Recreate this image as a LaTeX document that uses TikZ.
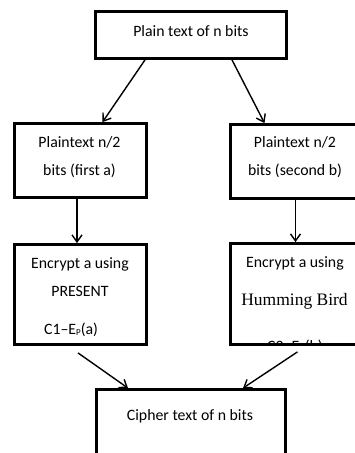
\documentclass[tikz,border=0pt]{standalone}
\usepackage{fontspec}
\setmainfont{Carlito}
\newfontfamily\hbfont{Liberation Serif}
\usetikzlibrary{arrows.meta}
\tikzset{
  box/.style={draw, line width=2.8pt, rectangle, inner sep=0pt},
  txt/.style={anchor=base, inner sep=0pt, font=\fontsize{15.8}{18}\selectfont},
  arr/.style={line width=1.4pt, -{Straight Barb[length=7pt,width=10pt,line width=1.4pt]}}
}
\begin{document}
\begin{tikzpicture}[x=1pt,y=-1pt]
\clip (0,0) rectangle (355,453);
\fill[white] (0,0) rectangle (355,453);
% boxes
\node[box, minimum width=191pt, minimum height=47pt] (top) at (191,35) {};
\node[box, minimum width=132pt, minimum height=74pt] (l2) at (80.5,160.5) {};
\node[box, minimum width=150pt, minimum height=74pt] (r2) at (305.5,161.5) {};
\node[box, minimum width=132pt, minimum height=100pt] (l3) at (80.5,294.5) {};
\node[box, minimum width=150pt, minimum height=101pt] (r3) at (305.5,294) {};
\node[box, minimum width=189pt, minimum height=81pt] (bot) at (191,430) {};
% texts
\node[txt] (t0) at (191,36) {Plain text of n bits};
\node[txt] (t1) at (79.5,147) {Plaintext n/2};
\node[txt] (t2) at (79.5,175) {bits (first a)};
\node[txt] (t3) at (295,147) {Plaintext n/2};
\node[txt] (t4) at (295,175) {bits (second b)};
\node[txt] (t5) at (80,268) {Encrypt a using};
\node[txt] (t6) at (80,296) {PRESENT};
\node[txt] (t7) at (71,334) {C1--E\raisebox{-1.5pt}{\fontsize{9}{9}\selectfont P}(a)};
\node[txt] (t8) at (295,267) {Encrypt a using};
\node[txt, font=\hbfont\fontsize{17.5}{20}\selectfont] (t9) at (294.5,305) {Humming Bird};
\begin{scope}
  \clip (232,330) rectangle (370,342.5);
  \node[txt] (t10) at (295,351.5) {C2--E\raisebox{-1.5pt}{\fontsize{9}{9}\selectfont H}(b)};
\end{scope}
\node[txt] (t11) at (190,420) {Cipher text of n bits};
% connectors
\draw[arr] ([xshift=-46pt]top.south) -- ([xshift=22pt]l2.north);
\draw[arr] ([xshift=41pt]top.south) -- ([xshift=-41pt]r2.north);
\draw[arr] ([xshift=-3.5pt]l2.south) -- ([xshift=-3.5pt]l3.north);
\draw[arr] ([xshift=-10pt]r2.south) -- ([xshift=-10pt]r3.north);
\draw[arr] ([xshift=-2.5pt,yshift=-7pt]l3.south) -- ([xshift=-63pt]bot.north);
\draw[arr] ([xshift=-8pt,yshift=-6pt]r3.south) -- ([xshift=52pt]bot.north);
\end{tikzpicture}
\end{document}
